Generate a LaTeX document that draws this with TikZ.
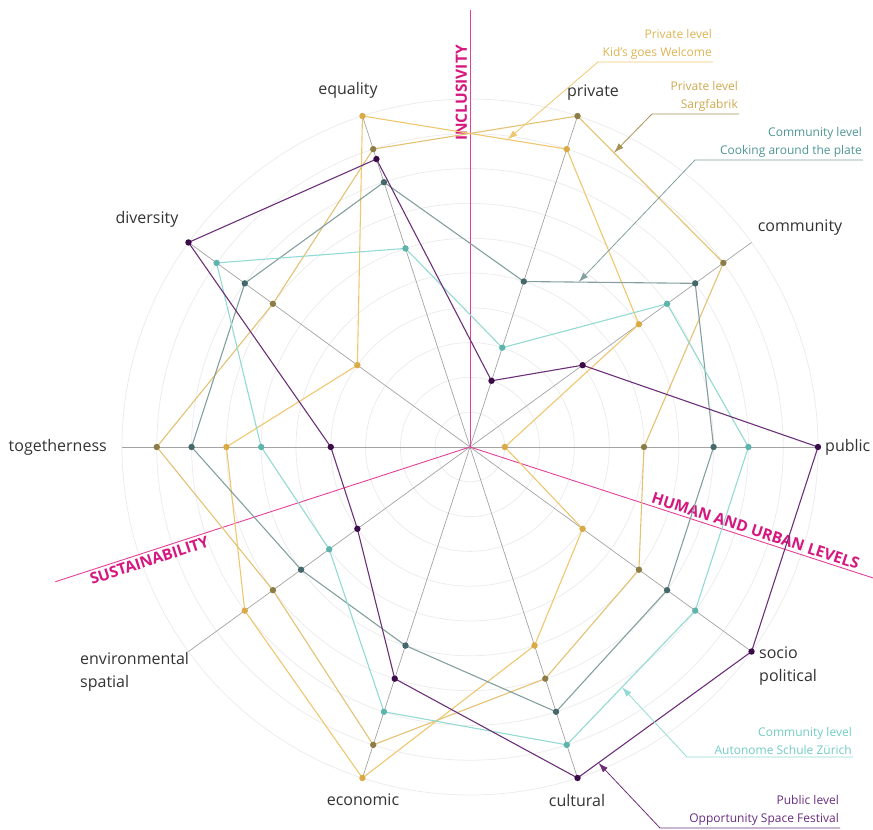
\documentclass[tikz,border=0pt]{standalone}
\usepackage{fontspec}
\setmainfont{Open Sans}
\usepackage{tikz}
\usetikzlibrary{arrows.meta, calc}

\definecolor{gridgray}{HTML}{ECECEC}
\definecolor{axisgray}{HTML}{A3A3A3}
\definecolor{kidL}{HTML}{EFC76E}
\definecolor{kidD}{HTML}{D9AA45}
\definecolor{kidT}{HTML}{DDB453}
\definecolor{sargL}{HTML}{E3C274}
\definecolor{sargD}{HTML}{8C7D47}
\definecolor{sargT}{HTML}{CFA94E}
\definecolor{cookL}{HTML}{839F9F}
\definecolor{cookD}{HTML}{45696A}
\definecolor{cookT}{HTML}{4F9595}
\definecolor{aszL}{HTML}{93DAD2}
\definecolor{aszD}{HTML}{5DB4AC}
\definecolor{aszT}{HTML}{72CCC4}
\definecolor{osfL}{HTML}{6C3079}
\definecolor{osfD}{HTML}{3A0C48}
\definecolor{osfT}{HTML}{6A2C80}
\definecolor{domainL}{HTML}{E4409A}
\definecolor{domainT}{HTML}{D6177F}

\begin{document}
\begin{tikzpicture}[x=1pt, y=1pt,
        axlbl/.style={font=\fontsize{16}{23}\selectfont, text=black!80, inner sep=2pt},
        annot/.style={font=\fontsize{12}{18}\selectfont, align=right, anchor=south east, inner sep=1pt},
        domtext/.style={font=\fontsize{15.5}{17}\selectfont\bfseries, text=domainT, inner sep=2.5pt},
        leader/.style={line width=0.8, -{Latex[length=10pt, width=6.5pt]}}]
        \useasboundingbox (-470,-383) rectangle (403,447);

        % grid and axes
        \coordinate (o) at (0,0);
        \foreach \k in {1,...,10}
            \draw[gridgray, line width=0.8] (o) circle ({\k*34.8});
        \foreach \a/\n in {72/priv,36/comm,0/pub,-36/soc,-72/cult,-108/eco,-144/env,180/tog,144/div,108/equ}
            \draw[axisgray, line width=0.7] (o) -- (\a:348) coordinate (\n);

        % the three domains
        \draw[domainL, line width=0.9] (o) -- (90:437) node[pos=0.81, above, sloped, domtext] (incl) {INCLUSIVITY};
        \draw[domainL, line width=0.9] (o) -- (-18:425) node[pos=0.70, above, sloped, domtext] (human) {HUMAN AND URBAN LEVELS};
        \draw[domainL, line width=0.9] (198:436) -- (o) node[pos=0.22, below, sloped, domtext] (sust) {SUSTAINABILITY};

        % values: private, community, public, socio political, cultural, economic, environmental, togetherness, diversity, equality
        \foreach \s/\lc/\vals in {kid/kidL/{9,6,1,4,6,10,8,7,4,10}, sarg/sargL/{10,9,5,6,7,9,7,9,7,9}, cook/cookL/{5,8,7,7,8,6,6,8,8,8}, asz/aszL/{3,7,8,8,9,8,5,6,9,6}, osf/osfL/{2,4,10,10,10,7,4,4,10,8.7}}{
            \foreach \v [count=\i] in \vals
                \coordinate (\s-\i) at ({108-36*\i}:{\v*34.8});
            \draw[\lc, line width=1.1, line join=round] (\s-1) \foreach \i in {2,...,10}{ -- (\s-\i)} -- cycle;
        }
        \foreach \s/\dc in {kid/kidD, sarg/sargD, cook/cookD, asz/aszD, osf/osfD}
            \foreach \i in {1,...,10}
                \fill[\dc] (\s-\i) circle (3.2);

        % axis labels
        \node[axlbl, anchor=west] (l-pub) at (353,0) {public};
        \node[axlbl, anchor=west, align=left] (l-soc) at (287,-219) {socio\\political};
        \node[axlbl] (l-cult) at (107,-353) {cultural};
        \node[axlbl] (l-eco) at (-107,-353) {economic};
        \node[axlbl, anchor=west, align=left] (l-env) at (-392,-225) {environmental\\spatial};
        \node[axlbl, anchor=east] (l-tog) at (-361,0) {togetherness};
        \node[axlbl] (l-div) at (-323,228) {diversity};
        \node[axlbl] (l-equ) at (-122,357) {equality};
        \node[axlbl] (l-priv) at (123,354) {private};
        \node[axlbl] (l-comm) at (330,219) {community};

        % legends with leaders
        \node[annot, text=kidT] (n-kid) at (243,386) {Private level\\Kid's goes Welcome};
        \coordinate (kid-bend) at (128,385);
        \draw[leader, kidL] (n-kid.south east |- kid-bend) -- (kid-bend) -- ($(kid-10)!0.71!(kid-1)$);

        \node[annot, text=sargT] (n-sarg) at (269,334) {Private level\\Sargfabrik};
        \coordinate (sarg-bend) at (182,333);
        \draw[leader, sargD!70!sargL] (n-sarg.south east |- sarg-bend) -- (sarg-bend) -- ($(sarg-1)!0.25!(sarg-2)$);

        \node[annot, text=cookT] (n-cook) at (393,288) {Community level\\Cooking around the plate};
        \coordinate (cook-bend) at (225,287);
        \draw[leader, cookL] (n-cook.south east |- cook-bend) -- (cook-bend) -- ($(cook-1)!0.32!(cook-2)$);

        \node[annot, text=aszT] (n-asz) at (383,-309) {Community level\\Autonome Schule Zürich};
        \coordinate (asz-bend) at (217,-310);
        \draw[leader, aszL] (n-asz.south east |- asz-bend) -- (asz-bend) -- ($(asz-4)!0.57!(asz-5)$);

        \node[annot, text=osfT] (n-osf) at (370,-380) {Public level\\Opportunity Space Festival};
        \coordinate (osf-bend) at (190,-381);
        \draw[leader, osfL] (n-osf.south east |- osf-bend) -- (osf-bend) -- ($(osf-5)!0.12!(osf-4)$);

    \end{tikzpicture}
\end{document}
